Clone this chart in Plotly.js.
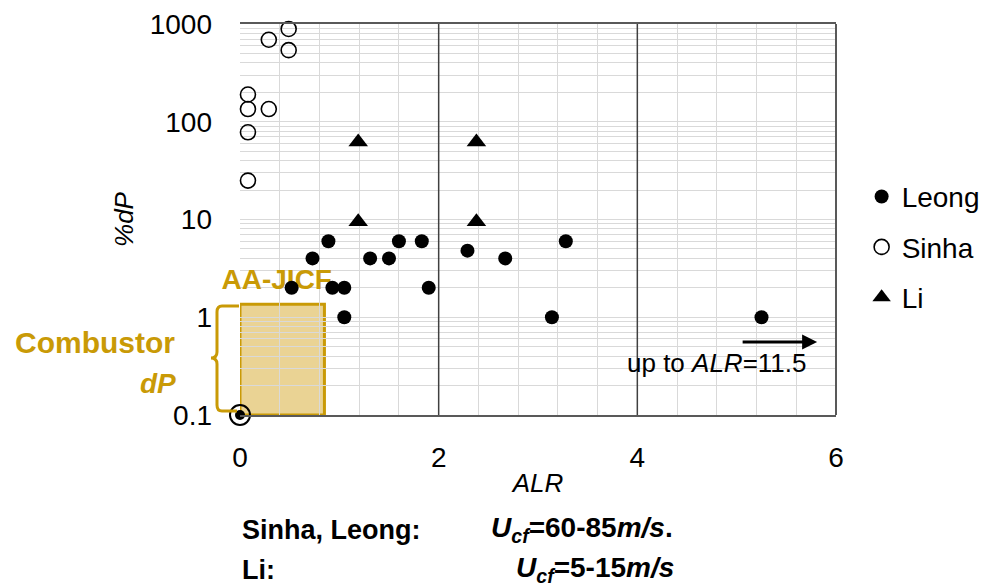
<!DOCTYPE html>
<html><head><meta charset="utf-8">
<script src="https://cdn.plot.ly/plotly-3.0.1.min.js"></script>
<style>html,body{margin:0;padding:0;background:#fff}#chart{width:984px;height:587px}</style>
</head><body><div id="chart"></div>
<script>
// Data
const leongALR = [0.52, 0.73, 0.89, 0.93, 1.05, 1.05, 1.31, 1.50, 1.60, 1.83, 1.90, 2.29, 2.67, 3.14, 3.28, 5.25];
const leongDP  = [2, 4, 6, 2, 2, 1, 4, 4, 6, 6, 2, 4.8, 4, 1, 6, 1];
const sinhaALR = [0.49, 0.29, 0.49, 0.08, 0.08, 0.29, 0.08, 0.08];
const sinhaDP  = [890, 690, 540, 190, 135, 135, 78, 25];
const liALR = [1.19, 2.38, 1.19, 2.38];
const liDP  = [62, 62, 9.5, 9.5];
const combustorALR = [0];
const combustorDP  = [0.1];
const xTickVals = [0, 2, 4, 6];
const yTickVals = [0.1, 1, 10, 100, 1000];
const yTickText = ['0.1', '1', '10', '100', '1000'];
const jicfBox = {alr: [0, 0.85], dp: [0.1, 1.357]};

const FONT = 'Liberation Sans, Arial, sans-serif';
const GOLD = '#C99A06';

const traces = [
  {x: [0.37], y: [2.3], mode: 'text', text: ['<b>AA-JICF</b>'],
   textfont: {family: FONT, size: 28, color: GOLD}, showlegend: false, hoverinfo: 'skip', cliponaxis: false},
  {x: combustorALR, y: combustorDP, mode: 'markers', showlegend: false, cliponaxis: false,
   marker: {symbol: 'circle-open', size: 20, color: '#000', line: {width: 2, color: '#000'}}},
  {x: combustorALR, y: combustorDP, mode: 'markers', showlegend: false, cliponaxis: false,
   marker: {symbol: 'circle', size: 10, color: '#000'}},
  {name: 'Leong', legendgroup: 'a', x: leongALR, y: leongDP, mode: 'markers', cliponaxis: false,
   marker: {symbol: 'circle', size: 14, color: '#000'}},
  {name: 'Sinha', legendgroup: 'b', x: sinhaALR, y: sinhaDP, mode: 'markers', cliponaxis: false,
   marker: {symbol: 'circle-open', size: 15, color: '#000', line: {width: 1.6, color: '#000'}}},
  {name: 'Li', legendgroup: 'c', x: liALR, y: liDP, mode: 'markers', cliponaxis: false,
   marker: {symbol: 'triangle-up', size: 17, color: '#000'}}
];

const bracePath = 'M -0.0017 0.2788 L -0.0302 0.2788 Q -0.0386 0.2788 -0.0386 0.2634 L -0.0386 0.1611 ' +
  'Q -0.0386 0.1458 -0.0487 0.1458 Q -0.0386 0.1458 -0.0386 0.1304 L -0.0386 0.0256 ' +
  'Q -0.0386 0.0102 -0.0302 0.0102 L -0.005 0.0102';

const layout = {
  width: 984, height: 587,
  margin: {l: 240, r: 148, t: 24, b: 172, autoexpand: false},
  paper_bgcolor: '#fff', plot_bgcolor: '#fff',
  font: {family: FONT, color: '#000', size: 28},
  showlegend: true,
  legend: {x: 1.043, xanchor: 'left', y: 0.622, yanchor: 'top', font: {size: 28, family: FONT, color: '#000'},
           traceorder: 'grouped', tracegroupgap: 11, bgcolor: 'rgba(0,0,0,0)'},
  xaxis: {range: [0, 6], tickvals: xTickVals, ticktext: xTickVals.map(String), showgrid: true,
          gridcolor: '#d9d9d9', gridwidth: 1, zeroline: false,
          minor: {dtick: 0.4, showgrid: true, gridcolor: '#d9d9d9', gridwidth: 1},
          showline: true, linecolor: '#595959', linewidth: 2, mirror: true,
          ticks: '', ticklabelstandoff: 16, tickfont: {size: 28, color: '#000'},
          title: {text: '<i>ALR</i>', font: {size: 26, color: '#000'}, standoff: 2}},
  yaxis: {type: 'log', range: [-1, 3], tickvals: yTickVals, ticktext: yTickText,
          showgrid: true, gridcolor: '#d9d9d9', gridwidth: 1, zeroline: false,
          minor: {dtick: 'D1', showgrid: true, gridcolor: '#d9d9d9', gridwidth: 1},
          showline: false, ticks: '', ticklabelstandoff: 27, tickfont: {size: 28, color: '#000'},
          title: {text: '<i>%dP</i>', font: {size: 26, color: '#000'}, standoff: 8}},
  shapes: [
    {type: 'rect', layer: 'below', xref: 'x', yref: 'y', x0: jicfBox.alr[0], x1: jicfBox.alr[1],
     y0: jicfBox.dp[0], y1: jicfBox.dp[1], fillcolor: '#EAD394', line: {color: GOLD, width: 3}},
    {type: 'line', layer: 'above', xref: 'x', yref: 'paper', x0: 2, x1: 2, y0: 0, y1: 1, line: {color: '#404040', width: 1.5}},
    {type: 'line', layer: 'above', xref: 'x', yref: 'paper', x0: 4, x1: 4, y0: 0, y1: 1, line: {color: '#404040', width: 1.5}},
    {type: 'line', layer: 'above', xref: 'paper', yref: 'paper', x0: 1, x1: 1, y0: 0, y1: 1, line: {color: '#595959', width: 2}},
    {type: 'path', xref: 'paper', yref: 'paper', path: bracePath, line: {color: GOLD, width: 3}}
  ],
  annotations: [
    {xref: 'paper', yref: 'paper', x: -0.243, y: 0.185, xanchor: 'center', yanchor: 'middle', showarrow: false,
     text: '<b>Combustor</b>', font: {size: 30, color: GOLD}},
    {xref: 'paper', yref: 'paper', x: -0.138, y: 0.08, xanchor: 'center', yanchor: 'middle', showarrow: false,
     text: '<b><i>dP</i></b>', font: {size: 28, color: GOLD}},
    {xref: 'x', yref: 'y', x: 4.8, y: -0.468, xanchor: 'center', yanchor: 'middle', showarrow: false,
     text: 'up to <i>ALR</i>=11.5', font: {size: 26, color: '#000'}},
    {xref: 'x', yref: 'y', x: 5.81, y: -0.253, ax: -76, ay: 0, axref: 'pixel', ayref: 'pixel', text: '',
     showarrow: true, arrowhead: 2, arrowsize: 1, arrowwidth: 3, arrowcolor: '#000'},
    {xref: 'paper', yref: 'paper', x: 0, y: -0.294, xanchor: 'left', yanchor: 'middle', showarrow: false,
     text: '<b>Sinha, Leong:</b>', font: {size: 27, color: '#000'}},
    {xref: 'paper', yref: 'paper', x: 0.417, y: -0.294, xanchor: 'left', yanchor: 'middle', showarrow: false,
     text: '<b><i>U</i><sub><i>cf</i></sub>=60-85<i>m/s</i>.</b>', font: {size: 28, color: '#000'}},
    {xref: 'paper', yref: 'paper', x: 0, y: -0.396, xanchor: 'left', yanchor: 'middle', showarrow: false,
     text: '<b>Li:</b>', font: {size: 27, color: '#000'}},
    {xref: 'paper', yref: 'paper', x: 0.459, y: -0.396, xanchor: 'left', yanchor: 'middle', showarrow: false,
     text: '<b><i>U</i><sub><i>cf</i></sub>=5-15<i>m/s</i></b>', font: {size: 28, color: '#000'}}
  ]
};

Plotly.newPlot('chart', traces, layout, {displayModeBar: false, staticPlot: true});
</script>
</body></html>
